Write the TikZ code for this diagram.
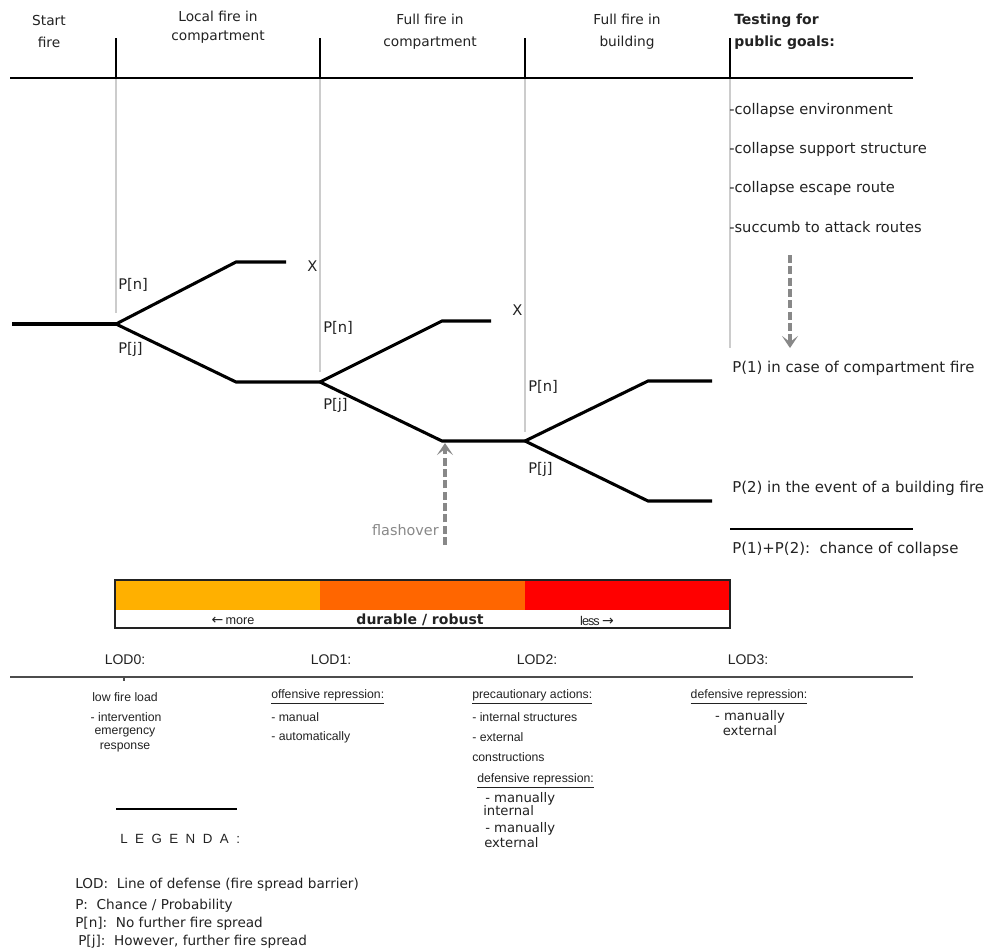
\documentclass[tikz,border=0pt]{standalone}
\usepackage{fontspec}
\setmainfont{DejaVu Sans}
\newfontfamily\arialf{Liberation Sans}
\usetikzlibrary{arrows.meta}
\definecolor{txtc}{HTML}{222222}
\definecolor{lgray}{HTML}{CCCCCC}
\definecolor{agray}{HTML}{888888}
\definecolor{cA}{HTML}{FFB000}
\definecolor{cB}{HTML}{FF6600}
\definecolor{cC}{HTML}{FF0000}
\begin{document}
\begin{tikzpicture}[x=0.75pt,y=-0.75pt,
  every node/.style={inner sep=0pt,text=txtc},
  hd/.style={align=center,font=\fontsize{10.3}{16.5}\selectfont},
  rt/.style={anchor=west,font=\fontsize{11}{12}\selectfont},
  rp/.style={anchor=west,font=\fontsize{11.2}{12}\selectfont},
  pl/.style={anchor=west,font=\fontsize{11}{12}\selectfont},
  ar/.style={font=\arialf\fontsize{9.2}{12}\selectfont},
  dv/.style={font=\fontsize{9.9}{11}\selectfont},
  lg/.style={anchor=west,font=\fontsize{10.2}{10}\selectfont},
  tree/.style={line width=2.3pt,black},
  grid/.style={line width=1.1pt,lgray},
  garrow/.style={draw=agray,line width=2.3pt,dash pattern=on 6pt off 2.5pt,
     -{Stealth[length=9pt,width=12pt,inset=4.5pt]}}]
\useasboundingbox (0,0) rectangle (990,951);

% header
\draw[line width=1.5pt] (10,78) -- (913,78);
\foreach \x in {116,320,525,730} \draw[line width=1.1pt] (\x,38) -- (\x,78);
\node[hd] (h0) at (49,31) {Start\\fire};
\node[hd,font=\fontsize{10.3}{14}\selectfont] (h1) at (218,27) {Local fire in\\compartment};
\node[hd] (h2) at (430,32) {Full fire in\\compartment};
\node[hd] (h3) at (627,32) {Full fire in\\building};
\node[anchor=west,align=left,font=\bfseries\fontsize{10.5}{16.5}\selectfont] (h4) at (734,32) {Testing for\\public goals:};

% grey guides
\draw[grid] (116,79) -- (116,313);
\draw[grid] (320,79) -- (320,372);
\draw[grid] (525,79) -- (525,432);
\draw[grid] (730,79) -- (730,348);

% tree
\coordinate (s0) at (12,324);
\coordinate (j1) at (116,324);
\coordinate (a1) at (236,262); \coordinate (e1) at (286,262);
\coordinate (b1) at (236,382); \coordinate (j2) at (320,382);
\coordinate (a2) at (442,321); \coordinate (e2) at (491,321);
\coordinate (b2) at (442,441); \coordinate (j3) at (525,441);
\coordinate (a3) at (648,381); \coordinate (e3) at (712,381);
\coordinate (b3) at (648,501); \coordinate (e4) at (712,501);
\draw[tree] (s0) -- (j1);
\draw[tree] (j1) -- (a1) -- (e1);
\draw[tree] (j1) -- (b1) -- (j2);
\draw[tree] (j2) -- (a2) -- (e2);
\draw[tree] (j2) -- (b2) -- (j3);
\draw[tree] (j3) -- (a3) -- (e3);
\draw[tree] (j3) -- (b3) -- (e4);

\node[pl] (pn1) at (118,285) {P[n]};
\node[pl] (pj1) at (118,349) {P[j]};
\node[pl] (pn2) at (323,328) {P[n]};
\node[pl] (pj2) at (323,405) {P[j]};
\node[pl] (pn3) at (528,387) {P[n]};
\node[pl] (pj3) at (528,469) {P[j]};
\node[pl] (x1) at (307,266) {X};
\node[pl] (x2) at (512,310) {X};

% right column
\node[rt] (r1) at (729,110) {-collapse environment};
\node[rt] (r2) at (729,149) {-collapse support structure};
\node[rt] (r3) at (729,188) {-collapse escape route};
\node[rt] (r4) at (729,227) {-succumb to attack routes};
\coordinate (ta) at (790,255);
\coordinate (tb) at (790,348);
\draw[garrow] (ta) -- (tb);
\node[rp] (p1) at (732,368) {P(1) in case of compartment fire};
\node[rp] (p2) at (732,488) {P(2) in the event of a building fire};
\coordinate (sl) at (730,529); \coordinate (sr) at (913,529);
\draw[line width=1pt] (sl) -- (sr);
\node[rp] (p3) at (732,549) {P(1)+P(2):\ \ chance of collapse};

% flashover
\coordinate (fa) at (445,545);
\coordinate (fb) at (445,443);
\draw[garrow] (fa) -- (fb);
\node[anchor=east,font=\fontsize{10.8}{12}\selectfont,text=agray] (fl) at (439,530) {flashover};

% bar
\fill[cA] (115,580) rectangle (320,610);
\fill[cB] (320,580) rectangle (525,610);
\fill[cC] (525,580) rectangle (730,610);
\draw[line width=1.1pt,txtc] (115,580) rectangle (730,628);
\node[font=\fontsize{10.5}{10}\selectfont] (more) at (233,621) {←\,{\arialf\fontsize{9.5}{10}\selectfont more}};
\node[font=\bfseries\fontsize{10.5}{12}\selectfont] (dur) at (420,620) {durable / robust};
\node[font=\fontsize{10.5}{10}\selectfont] (less) at (597,621) {{\arialf\fontsize{9.5}{10}\selectfont\addfontfeature{LetterSpace=-8}less}\,→};

% LOD
\node[ar,font=\arialf\fontsize{10.5}{12}\selectfont] (l0) at (125,660) {LOD0:};
\node[ar,font=\arialf\fontsize{10.5}{12}\selectfont] (l1) at (331,660) {LOD1:};
\node[ar,font=\arialf\fontsize{10.5}{12}\selectfont] (l2) at (537,660) {LOD2:};
\node[ar,font=\arialf\fontsize{10.5}{12}\selectfont] (l3) at (748,660) {LOD3:};
\draw[line width=1.1pt,black!70] (10,677) -- (913,677);
\draw[line width=1pt,black!70] (124,677) -- (124,681);

% column 0
\node[ar] (c0a) at (125,697) {low fire load};
\node[ar] (c0b) at (126,717) {- intervention};
\node[ar] (c0c) at (125,732) {emergency};
\node[ar] (c0d) at (125,747) {response};
% column 1
\node[ar,anchor=west] (c1a) at (271,697) {\underline{offensive repression:}};
\node[ar,anchor=west] (c1b) at (271,717) {- manual};
\node[ar,anchor=west] (c1c) at (271,737) {- automatically};
% column 2
\node[ar,anchor=west] (c2a) at (472,697) {\underline{precautionary actions:}};
\node[ar,anchor=west] (c2b) at (472,717) {- internal structures};
\node[ar,anchor=west] (c2c) at (472,737) {- external};
\node[ar,anchor=west] (c2d) at (472,757) {constructions};
\node[ar,anchor=west] (c2e) at (477,781) {\underline{defensive repression:}};
\node[dv,anchor=west] (c2f) at (485,799) {- manually};
\node[dv,anchor=west] (c2g) at (483,811) {internal};
\node[dv,anchor=west] (c2h) at (485,829) {- manually};
\node[dv,anchor=west] (c2i) at (484,843) {external};
% column 3
\node[ar] (c3a) at (749,697) {\underline{defensive repression:}};
\node[dv] (c3b) at (750,717) {- manually};
\node[dv] (c3c) at (750,731) {external};

% legend
\coordinate (ll) at (116,809); \coordinate (lr) at (237,809);
\draw[line width=1.1pt] (ll) -- (lr);
\node[ar,anchor=west,font=\arialf\fontsize{10}{12}\selectfont] (leg) at (120,839)
  {L\hspace{5.6pt}E\hspace{5.6pt}G\hspace{5.6pt}E\hspace{5.6pt}N\hspace{5.6pt}D\hspace{5.6pt}A\hspace{5.6pt}:};
\node[lg] (g1) at (75,885) {LOD:\ \ Line of defense (fire spread barrier)};
\node[lg] (g2) at (75,906) {P:\ \ Chance / Probability};
\node[lg] (g3) at (75,924) {P[n]:\ \ No further fire spread};
\node[lg] (g4) at (78,942) {P[j]:\ \ However, further fire spread};
\end{tikzpicture}
\end{document}
